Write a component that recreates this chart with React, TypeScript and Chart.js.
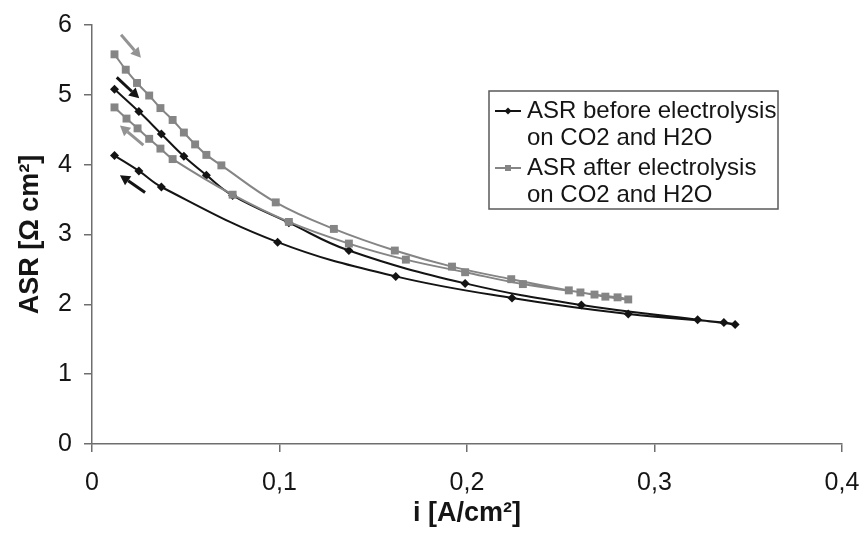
import React, { useEffect, useRef } from 'react';
import { Chart, registerables } from 'chart.js';

Chart.register(...registerables);

// ---- data ----
// "before" series: forward sweep (upper branch) then return sweep (lower branch)
const beforeX = [0.012, 0.025, 0.037, 0.049, 0.061, 0.075, 0.105, 0.137, 0.199, 0.261, 0.323, 0.343,
  0.337, 0.286, 0.224, 0.162, 0.099, 0.037, 0.025, 0.012];
const beforeY = [5.08, 4.76, 4.44, 4.12, 3.85, 3.56, 3.17, 2.77, 2.30, 1.99, 1.78, 1.71,
  1.74, 1.86, 2.09, 2.40, 2.89, 3.68, 3.91, 4.13];

// "after" series: forward sweep (upper branch) then return sweep (lower branch)
const afterX = [0.012, 0.018, 0.024, 0.0305, 0.0365, 0.043, 0.049, 0.055, 0.061, 0.069, 0.098, 0.129,
  0.1615, 0.192, 0.2236, 0.2543, 0.268, 0.2803, 0.286,
  0.2738, 0.2605, 0.2298, 0.199, 0.1674, 0.137, 0.105, 0.075, 0.043, 0.0365, 0.0305, 0.0243, 0.0184, 0.012];
const afterY = [5.58, 5.36, 5.17, 4.99, 4.81, 4.64, 4.46, 4.29, 4.14, 3.99, 3.46, 3.08,
  2.77, 2.54, 2.36, 2.20, 2.14, 2.10, 2.07,
  2.11, 2.17, 2.29, 2.46, 2.64, 2.87, 3.18, 3.57, 4.08, 4.23, 4.37, 4.52, 4.66, 4.82];

const xTickValues = [0, 0.1, 0.2, 0.3, 0.4];
const xTickLabels = ['0', '0,1', '0,2', '0,3', '0,4'];
const yTickLabels = ['0', '1', '2', '3', '4', '5', '6'];

const xTitle = 'i [A/cm²]';
const yTitle = 'ASR [Ω cm²]';

const legendLabels = [
  ['ASR before electrolysis', 'on CO2 and H2O'],
  ['ASR after electrolysis', 'on CO2 and H2O'],
];

// sweep-direction arrows (data units): tail -> head, series index (0 = before, 1 = after)
const arrowTailX = [0.0155, 0.0132, 0.0274, 0.0283];
const arrowTailY = [5.86, 5.25, 4.28, 3.60];
const arrowHeadX = [0.0261, 0.0252, 0.0149, 0.0149];
const arrowHeadY = [5.53, 4.95, 4.56, 3.85];
const arrowSeries = [1, 0, 1, 0];

// ---- styles ----
const BLACK = '#141414';
const GRAY = '#858585';
const ARROW_GRAY = '#939393';
const AXIS = '#6e6e6e';
const FONT = "'Liberation Sans', Arial, sans-serif";

const toPts = (xs: number[], ys: number[]) => xs.map((x, i) => ({ x, y: ys[i] }));

const arrowPlugin = {
  id: 'sweepArrows',
  afterDatasetsDraw(chart: any) {
    const { ctx, scales } = chart;
    const xs = scales.x, ys = scales.y;
    ctx.save();
    for (let i = 0; i < arrowTailX.length; i++) {
      const x1 = xs.getPixelForValue(arrowTailX[i]);
      const y1 = ys.getPixelForValue(arrowTailY[i]);
      const x2 = xs.getPixelForValue(arrowHeadX[i]);
      const y2 = ys.getPixelForValue(arrowHeadY[i]);
      const col = arrowSeries[i] === 0 ? BLACK : ARROW_GRAY;
      const ang = Math.atan2(y2 - y1, x2 - x1);
      const hl = 10, hw = 5.5;
      const bx = x2 - hl * Math.cos(ang), by = y2 - hl * Math.sin(ang);
      ctx.strokeStyle = col;
      ctx.fillStyle = col;
      ctx.lineWidth = 3;
      ctx.lineCap = 'butt';
      ctx.beginPath();
      ctx.moveTo(x1, y1);
      ctx.lineTo(bx, by);
      ctx.stroke();
      ctx.beginPath();
      ctx.moveTo(x2, y2);
      ctx.lineTo(bx + hw * Math.sin(ang), by - hw * Math.cos(ang));
      ctx.lineTo(bx - hw * Math.sin(ang), by + hw * Math.cos(ang));
      ctx.closePath();
      ctx.fill();
    }
    ctx.restore();
  },
};

const legendPlugin = {
  id: 'boxLegend',
  afterDraw(chart: any) {
    const { ctx } = chart;
    const box = { left: 489, top: 91, right: 778, bottom: 209 };
    ctx.save();
    ctx.fillStyle = '#ffffff';
    ctx.fillRect(box.left, box.top, box.right - box.left, box.bottom - box.top);
    ctx.strokeStyle = '#5a5a5a';
    ctx.lineWidth = 1.5;
    ctx.strokeRect(box.left, box.top, box.right - box.left, box.bottom - box.top);
    const rowY = [[111, 138], [168, 195]];
    ctx.font = `24px ${FONT}`;
    ctx.textBaseline = 'middle';
    ctx.textAlign = 'left';
    legendLabels.forEach((lines, i) => {
      const col = i === 0 ? BLACK : GRAY;
      const ly = rowY[i][0];
      ctx.strokeStyle = col;
      ctx.lineWidth = 2;
      ctx.beginPath();
      ctx.moveTo(495, ly);
      ctx.lineTo(521, ly);
      ctx.stroke();
      ctx.fillStyle = col;
      if (i === 0) {
        ctx.beginPath();
        ctx.moveTo(508, ly - 3.5);
        ctx.lineTo(511.5, ly);
        ctx.lineTo(508, ly + 3.5);
        ctx.lineTo(504.5, ly);
        ctx.closePath();
        ctx.fill();
      } else {
        ctx.fillRect(505, ly - 3, 6, 6);
      }
      ctx.fillStyle = '#151515';
      lines.forEach((t, j) => ctx.fillText(t, 527, rowY[i][j]));
    });
    ctx.restore();
  },
};

export default function App() {
  const canvasRef = useRef<HTMLCanvasElement | null>(null);

  useEffect(() => {
    const canvas = canvasRef.current;
    if (!canvas) return;
    const chart = new Chart(canvas, {
      type: 'scatter',
      data: {
        datasets: [
          {
            label: 'ASR before electrolysis on CO2 and H2O',
            data: toPts(beforeX, beforeY),
            showLine: true,
            tension: 0.4,
            borderColor: BLACK,
            backgroundColor: BLACK,
            borderWidth: 2,
            pointStyle: 'rectRot',
            pointRadius: 4.5,
            pointBorderWidth: 0,
            order: 2,
          },
          {
            label: 'ASR after electrolysis on CO2 and H2O',
            data: toPts(afterX, afterY),
            showLine: true,
            tension: 0.4,
            borderColor: GRAY,
            backgroundColor: GRAY,
            borderWidth: 2,
            pointStyle: 'rect',
            pointRadius: 5.6,
            pointBorderWidth: 0,
            order: 1,
          },
        ],
      },
      options: {
        responsive: false,
        animation: false,
        devicePixelRatio: 1,
        layout: { padding: { left: 0, right: 22, top: 25, bottom: 0 } },
        plugins: {
          legend: { display: false },
          tooltip: { enabled: false },
        },
        scales: {
          x: {
            type: 'linear',
            min: 0,
            max: 0.4,
            afterFit: (s: any) => { s.height = 89; s.paddingRight = 0; s.paddingLeft = 0; },
            afterBuildTicks: (s: any) => { s.ticks = xTickValues.map((v) => ({ value: v })); },
            ticks: {
              padding: 16,
              color: '#151515',
              font: { family: FONT, size: 25 },
              maxRotation: 0,
              autoSkip: false,
              callback: (_v: any, i: number) => xTickLabels[i],
            },
            grid: { drawOnChartArea: false, drawTicks: true, tickLength: 8, color: AXIS, lineWidth: 1.5 },
            border: { display: true, color: AXIS, width: 1.5 },
            title: {
              display: true,
              text: xTitle,
              color: '#151515',
              font: { family: FONT, size: 27, weight: 'bold' },
              padding: { top: 0, bottom: 3 },
            },
          },
          y: {
            type: 'linear',
            min: 0,
            max: 6,
            afterFit: (s: any) => { s.width = 92; s.paddingTop = 0; s.paddingBottom = 0; },
            ticks: {
              stepSize: 1,
              padding: 12,
              color: '#151515',
              font: { family: FONT, size: 25 },
              callback: (v: any) => yTickLabels[Math.round(Number(v))],
            },
            grid: { drawOnChartArea: false, drawTicks: true, tickLength: 8, color: AXIS, lineWidth: 1.5 },
            border: { display: true, color: AXIS, width: 1.5 },
            title: {
              display: true,
              text: yTitle,
              color: '#151515',
              font: { family: FONT, size: 27, weight: 'bold' },
              padding: { top: 14, bottom: 0 },
            },
          },
        },
      },
      plugins: [arrowPlugin, legendPlugin],
    } as any);
    return () => chart.destroy();
  }, []);

  return (
    <div style={{ position: 'fixed', left: 0, top: 0, width: 864, height: 533, background: '#fff' }}>
      <canvas ref={canvasRef} width={864} height={533} style={{ display: 'block', width: 864, height: 533 }} />
    </div>
  );
}
